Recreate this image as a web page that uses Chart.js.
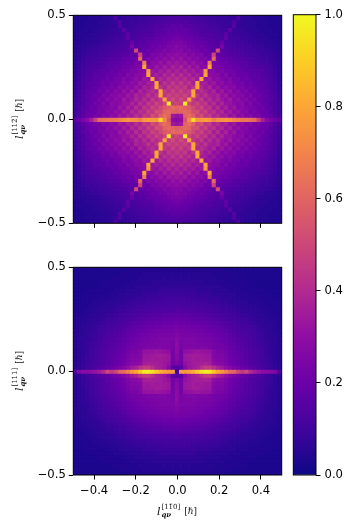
<!DOCTYPE html>
<html><head><meta charset="utf-8">
<script src="https://cdn.jsdelivr.net/npm/chart.js@4"></script>
<style>
html,body{margin:0;padding:0;background:#fff;width:356px;height:531px;overflow:hidden}
canvas{position:absolute}
.lab{position:absolute;white-space:nowrap;font:9px 'DejaVu Serif';color:#111;display:flex;align-items:center;gap:1px}
.lab i{font-size:11px}
.scr{display:inline-flex;flex-direction:column;font-size:7px;line-height:7px;margin-right:3px}
.scr b{font-size:7px;font-style:italic}
</style></head><body>
<canvas id="a" width="356" height="245" style="left:0;top:0"></canvas>
<canvas id="b" width="356" height="264" style="left:0;top:252px"></canvas>
<canvas id="c" width="76" height="500" style="left:280px;top:0"></canvas>
<div class="lab" style="left:19px;top:119px;transform:translate(-50%,-50%) rotate(-90deg)"><i>l</i><span class="scr"><span>[112̄]</span><b>qν</b></span><span>[ℏ]</span></div>
<div class="lab" style="left:19px;top:371px;transform:translate(-50%,-50%) rotate(-90deg)"><i>l</i><span class="scr"><span>[111]</span><b>qν</b></span><span>[ℏ]</span></div>
<div class="lab" style="left:177px;top:511px;transform:translate(-50%,-50%)"><i>l</i><span class="scr"><span>[11̄0]</span><b>qν</b></span><span>[ℏ]</span></div>
<script>
// Values in percent of the colour range. One quadrant per panel: rows run from the
// top edge down to y = 0, columns from x = 0 to the right edge; the pictures are mirror-symmetric.
const topPanelRows = [
[13,13,12,12,11,11,10,10,9,9,8,8,8,7,7,13,7,6,6,5,5,5,4,4,4,4],
[15,14,15,13,13,12,12,11,10,10,9,9,8,8,14,8,7,6,6,6,5,5,5,4,4,4],
[16,17,15,15,14,14,13,12,11,11,10,9,9,8,15,7,7,7,6,6,5,5,5,4,4,4],
[18,17,18,16,15,15,13,13,12,12,11,10,10,16,9,8,8,7,7,6,6,5,5,5,4,4],
[20,19,19,17,17,16,14,14,14,13,12,11,17,10,9,9,8,8,7,7,6,6,5,5,5,4],
[22,21,20,20,18,18,16,15,15,13,13,12,18,11,10,10,9,8,8,7,7,6,6,5,5,4],
[24,24,22,21,20,19,18,18,15,15,14,20,12,12,11,10,10,9,8,8,7,7,6,6,5,5],
[27,25,25,22,22,20,21,18,17,16,15,24,14,13,12,11,11,10,10,9,8,8,7,6,6,5],
[26,27,24,26,23,23,20,21,18,17,52,16,15,14,13,13,12,11,10,10,9,9,8,7,6,5],
[30,28,29,25,27,24,25,20,22,50,18,17,16,15,15,14,13,12,11,11,10,9,9,8,7,6],
[29,32,27,30,26,28,24,26,21,62,21,19,18,18,15,15,15,14,13,12,11,10,10,9,7,6],
[34,31,34,28,32,27,29,24,68,23,23,20,21,18,18,16,16,15,14,13,12,11,11,9,8,6],
[33,37,31,35,30,33,27,30,80,25,24,23,21,21,18,19,16,16,15,14,13,13,12,10,8,6],
[38,34,38,33,36,31,34,76,28,27,24,25,22,22,21,18,19,16,17,15,15,14,12,11,9,7],
[36,41,36,39,33,37,33,80,30,28,28,24,26,21,23,20,19,20,16,17,16,14,13,11,9,7],
[42,38,42,36,40,34,80,31,34,28,30,26,24,26,22,23,19,21,18,16,17,15,14,12,10,7],
[40,45,39,43,37,80,36,36,31,34,28,30,25,27,24,22,23,19,21,18,16,16,15,12,10,8],
[46,42,46,38,44,80,39,34,38,30,33,27,30,26,28,23,24,21,22,19,18,16,15,13,11,8],
[43,48,42,46,80,38,42,38,34,38,30,34,28,31,25,28,23,25,21,22,18,18,16,14,11,8],
[48,45,49,44,80,44,38,43,37,35,38,31,34,28,30,26,27,23,25,20,21,18,17,14,12,9],
[45,51,46,78,46,40,46,37,42,35,39,33,30,34,27,30,25,27,22,24,19,19,16,15,12,9],
[50,47,97,50,44,49,42,45,37,42,34,38,32,32,29,27,29,23,26,21,22,18,18,14,12,10],
[60,62,58,56,51,45,49,41,44,36,41,33,37,30,33,26,28,25,24,23,20,21,17,16,13,10],
[58,60,62,60,52,53,44,48,40,43,36,39,32,35,29,31,26,27,23,24,21,20,19,15,13,10],
[32,34,60,63,58,48,52,43,46,38,42,35,37,31,34,27,30,25,27,23,24,20,20,17,14,11],
[28,30,55,72,92,76,76,78,76,68,72,74,75,74,70,68,66,66,64,62,48,36,28,24,20,18]
];
const bottomPanelRows = [
[4,4,4,4,4,4,4,4,4,4,4,4,3,3,3,3,3,3,3,3,3,3,3,3,3,3],
[5,5,5,5,5,5,5,5,5,4,4,4,4,4,4,3,3,3,3,3,3,3,3,3,3,3],
[5,6,5,6,5,5,5,5,5,5,4,4,4,4,4,4,4,3,3,3,3,3,3,3,3,3],
[6,6,6,6,6,6,6,5,5,5,5,5,4,4,4,4,4,4,4,3,3,3,3,3,3,3],
[7,7,7,7,7,7,6,6,6,6,6,5,5,5,4,4,4,4,4,4,3,3,3,3,3,3],
[8,8,8,8,8,7,7,7,7,6,6,6,6,5,5,5,4,4,4,4,4,4,3,3,3,3],
[9,9,9,9,9,8,8,8,8,7,7,7,6,6,6,5,5,5,4,4,4,4,4,3,3,3],
[10,10,10,10,9,9,9,9,8,8,8,7,7,7,6,6,5,5,5,5,4,4,4,4,3,3],
[11,11,11,11,11,10,10,10,9,9,9,8,8,7,7,6,6,6,5,5,5,4,4,4,4,3],
[13,13,12,12,12,12,11,11,11,10,10,9,9,8,8,7,7,6,6,6,5,5,4,4,4,3],
[15,14,14,14,14,13,13,12,12,12,11,10,10,9,9,8,7,7,7,6,6,5,5,4,4,4],
[17,16,16,16,15,15,15,14,14,13,12,12,11,10,10,9,8,8,7,7,6,6,5,5,4,4],
[19,18,18,18,17,17,16,16,15,15,14,13,12,11,11,10,9,9,8,7,7,6,6,5,5,4],
[21,20,20,20,19,19,18,18,17,16,16,15,14,13,12,11,10,10,9,8,7,7,6,6,5,4],
[23,22,22,22,21,21,20,20,19,18,17,16,15,14,13,12,11,11,10,9,8,7,7,6,5,4],
[24,23,23,23,23,22,22,21,20,20,19,18,17,15,14,13,12,12,11,10,8,8,7,6,5,5],
[26,24,24,24,24,23,23,22,22,21,20,19,18,16,15,14,13,13,11,10,9,8,7,6,6,5],
[27,25,25,25,25,24,24,23,23,22,21,20,19,17,16,15,14,13,12,11,9,8,7,7,6,5],
[29,24,25,25,25,25,24,24,24,23,22,21,20,18,17,15,15,14,13,11,10,9,8,7,6,5],
[29,24,25,26,26,25,25,25,24,23,22,22,21,19,18,16,15,14,13,12,10,9,8,7,6,5],
[29,23,30,31,32,33,32,32,31,26,24,24,22,20,18,17,16,15,14,12,11,10,8,7,6,5],
[28,23,33,34,35,35,34,33,33,26,25,25,23,21,19,18,16,15,14,12,11,10,9,7,6,5],
[27,23,33,34,35,34,35,34,34,27,26,26,24,21,20,18,17,15,14,13,11,10,9,8,6,5],
[25,22,31,33,35,36,36,37,36,30,28,27,25,22,20,19,17,16,14,13,12,10,9,8,7,5],
[14,16,28,33,35,37,42,46,46,42,37,34,30,26,24,22,20,18,16,15,13,11,10,8,7,6],
[12,76,76,78,82,88,94,98,97,88,80,76,68,62,60,50,45,50,40,35,32,30,28,28,25,14]
];
const xTicks = [-0.4,-0.2,0,0.2,0.4];
const yTicks = [-0.5,0,0.5];
const cbTicks = [0,0.2,0.4,0.6,0.8,1];
const plasma = ['#0d0887','#41049d','#6a00a8','#8f0da4','#b12a90','#cc4778','#e16462','#f2844b','#fca636','#fcce25','#f0f921'];

const fontSpec = {family:"'DejaVu Sans'",size:11.6};
Chart.defaults.color = '#000';
const rgb = h => [1,3,5].map(i=>parseInt(h.slice(i,i+2),16));
function cmap(v){
  const t=Math.max(0,Math.min(1,v))*10, i=Math.min(9,Math.floor(t)), f=t-i, a=rgb(plasma[i]), b=rgb(plasma[i+1]);
  return `rgb(${a.map((c,k)=>Math.round(c+(b[k]-c)*f)).join(',')})`;
}
const fmt = v => Number(v).toFixed(1).replace('-','\u2212');
function cells(rows){
  const out=[], n=rows.length;
  for(let r=-(n-1);r<=n-1;r++) for(let c=-(n-1);c<=n-1;c++){
    out.push({x:c/(2*n-1), y:r/(2*n-1), v:rows[n-1-Math.abs(r)][Math.abs(c)]/100});
  }
  return out;
}
const frame = {id:'frame',afterDraw(ch){const a=ch.chartArea,g=ch.ctx;g.save();g.strokeStyle='#000';g.lineWidth=1;g.strokeRect(a.left,a.top,a.right-a.left,a.bottom-a.top);g.restore();}};
function setTicks(list){return s=>{s.ticks=list.map(v=>({value:v}));};}
function panel(id,rows,showX,pad){
  new Chart(document.getElementById(id),{
    type:'scatter',
    plugins:[frame],
    data:{datasets:[{data:cells(rows),pointStyle:'rect',pointRadius:3.68,pointBorderWidth:0,pointHoverRadius:3.68,clip:0,
      backgroundColor:c=>cmap(c.raw.v)}]},
    options:{responsive:false,animation:false,events:[],layout:{padding:pad},
      plugins:{legend:{display:false},tooltip:{enabled:false}},
      scales:{
        x:{type:'linear',min:-0.5,max:0.5,afterBuildTicks:setTicks(xTicks),afterFit:s=>{s.height=22;},
          border:{display:false},grid:{drawOnChartArea:false,tickLength:4.5,tickColor:'#000',tickWidth:1},
          ticks:{font:fontSpec,color:'#000',padding:4.5,maxRotation:0,autoSkip:false,callback:v=>showX?fmt(v):''}},
        y:{type:'linear',min:-0.5,max:0.5,afterBuildTicks:setTicks(yTicks),afterFit:s=>{s.width=50;},
          border:{display:false},grid:{drawOnChartArea:false,tickLength:4.5,tickColor:'#000',tickWidth:1},
          ticks:{font:fontSpec,color:'#000',padding:3,autoSkip:false,callback:v=>fmt(v)}}
      }}
  });
}
panel('a',topPanelRows,false,{left:23.3,right:74.3,top:15.3,bottom:245-223.3-22});
panel('b',bottomPanelRows,true,{left:23.3,right:74.3,top:15.3,bottom:264-223-22});
new Chart(document.getElementById('c'),{
  type:'bar',
  plugins:[frame],
  data:{labels:[''],datasets:[{data:[1],barPercentage:1,categoryPercentage:1,borderWidth:0,
    backgroundColor:c=>{const a=c.chart.chartArea; if(!a) return plasma[5];
      const g=c.chart.ctx.createLinearGradient(0,a.bottom,0,a.top);
      plasma.forEach((h,i)=>g.addColorStop(i/10,h)); return g;}}]},
  options:{responsive:false,animation:false,events:[],layout:{padding:{left:13.3,right:10,top:14.7,bottom:25}},
    plugins:{legend:{display:false},tooltip:{enabled:false}},
    scales:{
      x:{display:false},
      y:{position:'right',min:0,max:1,afterBuildTicks:setTicks(cbTicks),afterFit:s=>{s.width=30;},
        border:{display:false},grid:{drawOnChartArea:false,tickLength:4.5,tickColor:'#000',tickWidth:1},
        ticks:{font:fontSpec,color:'#000',padding:4,autoSkip:false,callback:v=>fmt(v)}}
    }}
});
</script>
</body></html>
